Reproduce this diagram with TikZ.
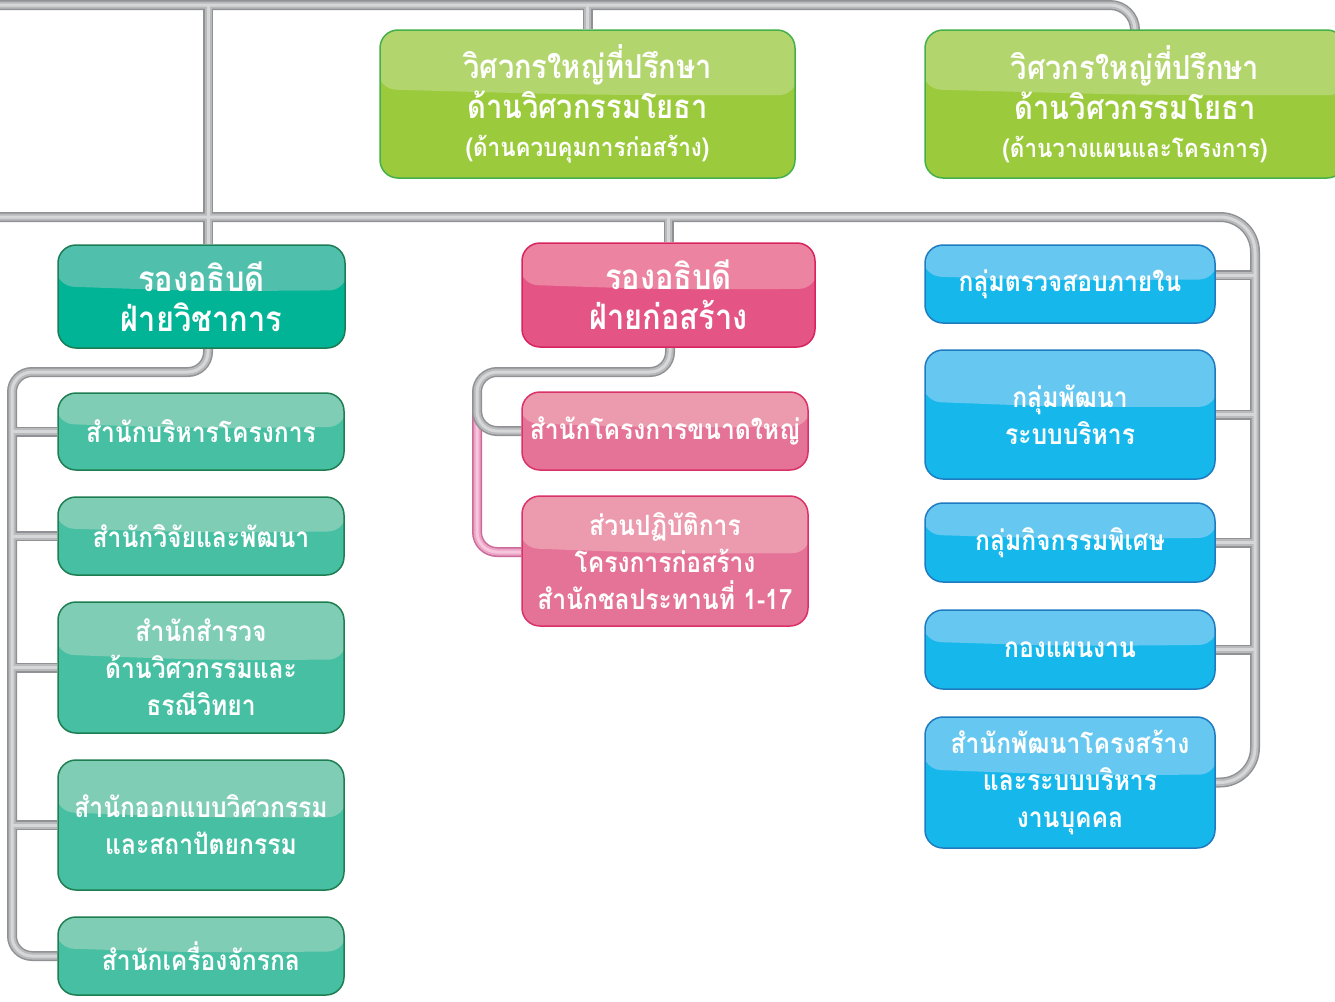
\documentclass[tikz,border=0pt]{standalone}
\usepackage{fontspec}
\newfontfamily\thaifont[Script=Thai,FakeStretch=0.88]{Loma}
\usetikzlibrary{calc,backgrounds}
\definecolor{grT}{HTML}{B3D56E}\definecolor{grB}{HTML}{9BCB3C}\definecolor{grD}{HTML}{45B04A}
\definecolor{thT}{HTML}{50C0AC}\definecolor{thB}{HTML}{00B495}\definecolor{thD}{HTML}{1C7D55}
\definecolor{tsT}{HTML}{80CDB6}\definecolor{tsB}{HTML}{46BFA2}\definecolor{tsD}{HTML}{1E7E52}
\definecolor{phT}{HTML}{EC83A0}\definecolor{phB}{HTML}{E45586}\definecolor{phD}{HTML}{D8235F}
\definecolor{psT}{HTML}{EC9AAE}\definecolor{psB}{HTML}{E57397}\definecolor{psD}{HTML}{DA3168}
\definecolor{blT}{HTML}{66C8F0}\definecolor{blB}{HTML}{16B8EC}\definecolor{blD}{HTML}{1F7BC0}
\definecolor{pipeD}{HTML}{8F9194}\definecolor{pipeM}{HTML}{B9BABC}\definecolor{pipeL}{HTML}{D6D7D9}
\definecolor{pinkD}{HTML}{C96A98}\definecolor{pinkM}{HTML}{EBA3C6}\definecolor{pinkL}{HTML}{F7C6DD}
\tikzset{
  glossbox/.style n args={3}{rounded corners=18pt, draw=#3, line width=1.5pt, fill=#2,
    text=white, align=center, inner sep=0pt,
    path picture={
      \coordinate (gA) at ($(path picture bounding box.north west)!0.40!(path picture bounding box.south west)$);
      \coordinate (gB) at ($(path picture bounding box.north east)!0.44!(path picture bounding box.south east)$);
      \fill[#1] ([shift={(-2pt,2pt)}]path picture bounding box.north west) -- ([shift={(2pt,2pt)}]path picture bounding box.north east)
        -- ([xshift=2pt]gB) .. controls ($(gA)!0.5!(gB)+(0pt,-3pt)$) .. ([xshift=-2pt]gA) -- cycle;
    }},
  greenbox/.style={glossbox={grT}{grB}{grD}, font=\thaifont\bfseries\fontsize{33}{40}\selectfont},
  headteal/.style={glossbox={thT}{thB}{thD}, font=\thaifont\bfseries\fontsize{35}{40}\selectfont},
  headpink/.style={glossbox={phT}{phB}{phD}, font=\thaifont\bfseries\fontsize{35}{40}\selectfont},
  subteal/.style={glossbox={tsT}{tsB}{tsD}, font=\thaifont\bfseries\fontsize{28}{37}\selectfont, minimum width=286pt},
  subpink/.style={glossbox={psT}{psB}{psD}, font=\thaifont\bfseries\fontsize{28}{37}\selectfont, minimum width=286pt},
  subblue/.style={glossbox={blT}{blB}{blD}, font=\thaifont\bfseries\fontsize{28}{37}\selectfont, minimum width=290pt},
  pipeA/.style={draw=pipeD, line width=10pt},
  pipeB/.style={draw=pipeM, line width=7pt},
  pipeC/.style={draw=pipeL, line width=3pt},
  pinkA/.style={draw=pinkD, line width=10pt},
  pinkB/.style={draw=pinkM, line width=7pt},
  pinkC/.style={draw=pinkL, line width=3pt},
}
\begin{document}
\begin{tikzpicture}[x=1pt,y=-1pt]
\useasboundingbox (0,0) rectangle (1335,1001);
% top level
\node[greenbox, minimum width=415pt, minimum height=148pt] (g1) at (587.5,104)
  {วิศวกรใหญ่ที่ปรึกษา\\ด้านวิศวกรรมโยธา\\[-2pt]{\fontsize{25.5}{30}\selectfont (ด้านควบคุมการก่อสร้าง)}};
\node[greenbox, minimum width=420pt, minimum height=148pt] (g2) at (1135,104)
  {วิศวกรใหญ่ที่ปรึกษา\\ด้านวิศวกรรมโยธา\\[-2pt]{\fontsize{25.5}{30}\selectfont (ด้านวางแผนและโครงการ)}};
% heads
\node[headteal, minimum width=287pt, minimum height=103pt] (va) at (201.5,296.5) {รองอธิบดี\\ฝ่ายวิชาการ};
\node[headpink, minimum width=293pt, minimum height=104pt] (pk) at (668.5,295) {รองอธิบดี\\ฝ่ายก่อสร้าง};
% left column
\node[subteal, minimum height=77pt] (l1) at (201,431.5) {สำนักบริหารโครงการ};
\node[subteal, minimum height=78pt] (l2) at (201,536) {สำนักวิจัยและพัฒนา};
\node[subteal, minimum height=131pt] (l3) at (201,667.5) {สำนักสำรวจ\\ด้านวิศวกรรมและ\\ธรณีวิทยา};
\node[subteal, minimum height=130pt] (l4) at (201,825) {สำนักออกแบบวิศวกรรม\\และสถาปัตยกรรม};
\node[subteal, minimum height=78pt] (l5) at (201,956) {สำนักเครื่องจักรกล};
% middle column
\node[subpink, minimum height=78pt] (p1) at (665,431) {สำนักโครงการขนาดใหญ่};
\node[subpink, minimum height=130pt] (p2) at (665,561) {ส่วนปฏิบัติการ\\โครงการก่อสร้าง\\สำนักชลประทานที่ 1-17};
% right column
\node[subblue, minimum height=78pt] (b1) at (1070,284) {กลุ่มตรวจสอบภายใน};
\node[subblue, minimum height=129pt] (b2) at (1070,414.5) {กลุ่มพัฒนา\\ระบบบริหาร};
\node[subblue, minimum height=79pt] (b3) at (1070,542.5) {กลุ่มกิจกรรมพิเศษ};
\node[subblue, minimum height=79pt] (b4) at (1070,649.5) {กองแผนงาน};
\node[subblue, minimum height=131pt] (b5) at (1070,782.5) {สำนักพัฒนาโครงสร้าง\\และระบบบริหาร\\งานบุคคล};
% junction coordinates
\coordinate (topL) at (-10,5);
\coordinate (busL) at (-10,217);
\coordinate (rk) at (1255,217);
\coordinate (lk) at (12,372);
\coordinate (mk) at (477,372);
\coordinate (mj) at (477,412);
\begin{pgfonlayer}{background}
\foreach \p in {pinkA,pinkB,pinkC}{
  \draw[\p, rounded corners=20pt] (mj) |- ([yshift=9pt]p2.west);
}
\foreach \p in {pipeA,pipeB,pipeC}{
  \draw[\p, rounded corners=25pt] (topL) -| (g2.north);
  \draw[\p] (g1.north) -- (g1.north |- topL);
  \draw[\p] ([xshift=6.5pt]va.north) -- ([xshift=6.5pt]va.north |- topL);
  \draw[\p, rounded corners=35pt] (busL) -| (b5.east -| rk) -- (b5.east);
  \draw[\p] (pk.north) -- (pk.north |- busL);
  \draw[\p] ([yshift=9pt]b1.east) -- ([yshift=9pt]b1.east -| rk);
  \draw[\p] (b2.east) -- (b2.east -| rk);
  \draw[\p] (b3.east) -- (b3.east -| rk);
  \draw[\p] (b4.east) -- (b4.east -| rk);
  \draw[\p, rounded corners=20pt] ([xshift=6.5pt]va.south) |- (lk) |- (l5.west);
  \draw[\p] (l1.west) -- (l1.west -| lk);
  \draw[\p] (l2.west) -- (l2.west -| lk);
  \draw[\p] (l3.west) -- (l3.west -| lk);
  \draw[\p] (l4.west) -- (l4.west -| lk);
  \draw[\p, rounded corners=20pt] ([xshift=1.5pt]pk.south) |- (mk) |- (p1.west);
}
\end{pgfonlayer}
\end{tikzpicture}
\end{document}
